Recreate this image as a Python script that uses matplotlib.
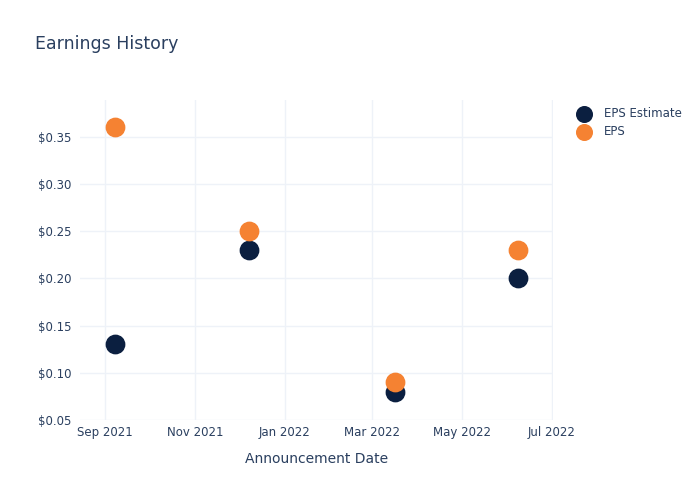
import matplotlib
matplotlib.use("Agg")
import matplotlib.pyplot as plt
import matplotlib.dates as mdates
import numpy as np
from datetime import datetime

# data
dates = ["2021-09-08", "2021-12-08", "2022-03-17", "2022-06-08"]
eps_estimate = [0.13, 0.23, 0.08, 0.20]
eps_actual = [0.36, 0.25, 0.09, 0.23]
y_ticks = [0.05, 0.10, 0.15, 0.20, 0.25, 0.30, 0.35]

x = [datetime.strptime(d, "%Y-%m-%d") for d in dates]
txt = "#2a3f5f"
grid = "#eef2f8"

fig = plt.figure(figsize=(7, 5), dpi=100)
ax = fig.add_axes([80/700, 80/500, 473/700, 320/500])

ax.scatter(x, eps_estimate, s=175, color="#0b1f40", label="EPS Estimate", zorder=3)
ax.scatter(x, eps_actual, s=175, color="#f58232", label="EPS", zorder=3)

ax.set_xlim(datetime(2021, 8, 15), datetime(2022, 7, 2))
ax.set_ylim(0.05, 0.389)
ax.set_yticks(y_ticks)
ax.set_yticklabels(["$%.2f" % v for v in y_ticks])
ax.xaxis.set_major_locator(mdates.MonthLocator(bymonth=[1, 3, 5, 7, 9, 11]))
ax.xaxis.set_major_formatter(mdates.DateFormatter("%b %Y"))

ax.grid(True, color=grid, linewidth=1)
ax.set_axisbelow(True)
for s in ax.spines.values():
    s.set_visible(False)
ax.tick_params(length=0, colors=txt, labelsize=8.5)
ax.tick_params(axis="y", pad=6)
ax.tick_params(axis="x", pad=4)

ax.set_xlabel("Announcement Date", color=txt, fontsize=10, labelpad=10)
fig.text(35/700, 1 - 44/500, "Earnings History", color=txt, fontsize=12.5, va="center")

leg = ax.legend(loc="upper left", bbox_to_anchor=(1.025, 1.0), frameon=False,
                fontsize=8.5, handletextpad=0.7, labelspacing=0.45, borderaxespad=0.2,
                markerscale=0.85)
for t in leg.get_texts():
    t.set_color(txt)

fig.savefig("out.png", dpi=100)
